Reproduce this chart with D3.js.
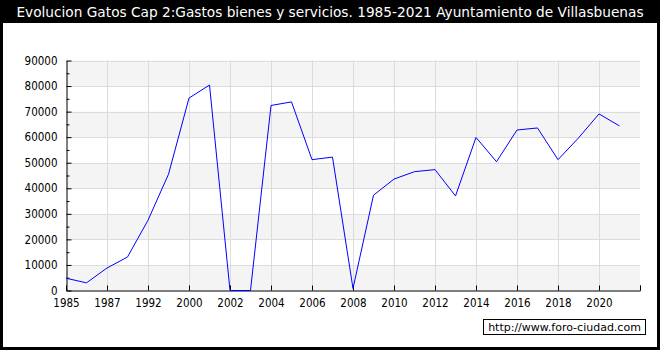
<!DOCTYPE html>
<html>
<head>
<meta charset="utf-8">
<script src="https://cdn.jsdelivr.net/npm/d3@7"></script>
<style>
  body { margin: 0; background: #fff; }
  svg { display: block; font-family: "DejaVu Sans", Verdana, sans-serif; }
</style>
</head>
<body>
<svg id="chart"></svg>
<script>
const years = ['1985', '1986', '1987', '1989', '1992', '1996', '2000', '2001', '2002', '2003',
  '2004', '2005', '2006', '2007', '2008', '2009', '2010', '2011', '2012', '2013',
  '2014', '2015', '2016', '2017', '2018', '2019', '2020', '2021'];
const gastos = [4800, 3000, 8800, 13100, 27500, 45500, 75300, 80400, 0, 0,
  72400, 73800, 51200, 52200, 800, 37300, 43600, 46500, 47300, 37000,
  59900, 50400, 62800, 63600, 51200, 59700, 69100, 64400];
const yTicks = [0, 10000, 20000, 30000, 40000, 50000, 60000, 70000, 80000, 90000];

const width = 660;
const height = 350;
const plotLeft = 66, plotRight = 640, plotTop = 60.5, plotBottom = 290.5;
const axisFont = '"DejaVu Sans Condensed", "DejaVu Sans", Verdana, sans-serif';

const svg = d3.select('#chart').attr('width', width).attr('height', height);

// marco negro y barra de titulo
svg.append('rect').attr('width', width).attr('height', height).attr('fill', '#000');
svg.append('rect').attr('x', 3).attr('y', 23).attr('width', width - 6).attr('height', height - 26).attr('fill', '#fff');

svg.append('text')
  .attr('x', width / 2)
  .attr('y', 16.5)
  .attr('text-anchor', 'middle')
  .attr('fill', '#fff')
  .attr('font-size', 13.7)
  .text('Evolucion Gatos Cap 2:Gastos bienes y servicios. 1985-2021 Ayuntamiento de Villasbuenas');

const x = d3.scaleLinear().domain([0, years.length]).range([plotLeft, plotRight]);
const y = d3.scaleLinear().domain([0, 90000]).range([plotBottom, plotTop]);

// bandas alternas
const chart = svg.append('g');
chart.selectAll('rect.band')
  .data(yTicks.slice(0, -1).filter((d, i) => i % 2 === 0))
  .enter()
  .append('rect')
  .attr('class', 'band')
  .attr('x', plotLeft)
  .attr('width', plotRight - plotLeft)
  .attr('y', d => y(d + 10000))
  .attr('height', d => y(d) - y(d + 10000))
  .attr('fill', '#f4f4f4');

chart.selectAll('line.hgrid')
  .data(yTicks.slice(1))
  .enter()
  .append('line')
  .attr('x1', plotLeft).attr('x2', plotRight)
  .attr('y1', d => Math.round(y(d)) + 0.5)
  .attr('y2', d => Math.round(y(d)) + 0.5)
  .attr('stroke', '#dcdcdc');

chart.selectAll('line.vgrid')
  .data(d3.range(2, years.length, 2))
  .enter()
  .append('line')
  .attr('x1', d => Math.round(x(d)) + 0.5)
  .attr('x2', d => Math.round(x(d)) + 0.5)
  .attr('y1', plotTop).attr('y2', plotBottom)
  .attr('stroke', '#dcdcdc');

// ejes
const yAxis = d3.axisLeft(y)
  .tickValues(d3.range(0, 90001, 5000))
  .tickFormat(d => d % 10000 === 0 ? d : '')
  .tickSizeInner(-5)
  .tickSizeOuter(0)
  .tickPadding(9);

const ya = svg.append('g')
  .attr('transform', 'translate(' + (plotLeft + 0.5) + ',0)')
  .call(yAxis);
ya.selectAll('.tick line').attr('x2', d => d % 10000 === 0 ? 5 : 3);

const xAxis = d3.axisBottom(x)
  .tickValues(d3.range(0, years.length + 1, 2).concat([years.length]))
  .tickFormat(i => years[i] || '')
  .tickSizeInner(-5)
  .tickSizeOuter(0)
  .tickPadding(8);

svg.append('g')
  .attr('transform', 'translate(0,' + plotBottom + ')')
  .call(xAxis);

svg.selectAll('.domain, .tick line').attr('stroke', '#000');
svg.selectAll('.tick text').attr('fill', '#000').attr('font-size', 11.5).attr('font-family', axisFont);

// linea de datos
const line = d3.line()
  .x((d, i) => x(i))
  .y(d => y(d));

svg.append('path')
  .datum(gastos)
  .attr('d', line)
  .attr('fill', 'none')
  .attr('stroke', '#0000ff')
  .attr('stroke-width', 1);

// marca de agua
svg.append('rect')
  .attr('x', 483.5).attr('y', 319.5)
  .attr('width', 162).attr('height', 15)
  .attr('fill', '#fff')
  .attr('stroke', '#000');
svg.append('text')
  .attr('x', 564.5)
  .attr('y', 331)
  .attr('text-anchor', 'middle')
  .attr('font-size', 11)
  .attr('fill', '#000')
  .text('http://www.foro-ciudad.com');
</script>
</body>
</html>
